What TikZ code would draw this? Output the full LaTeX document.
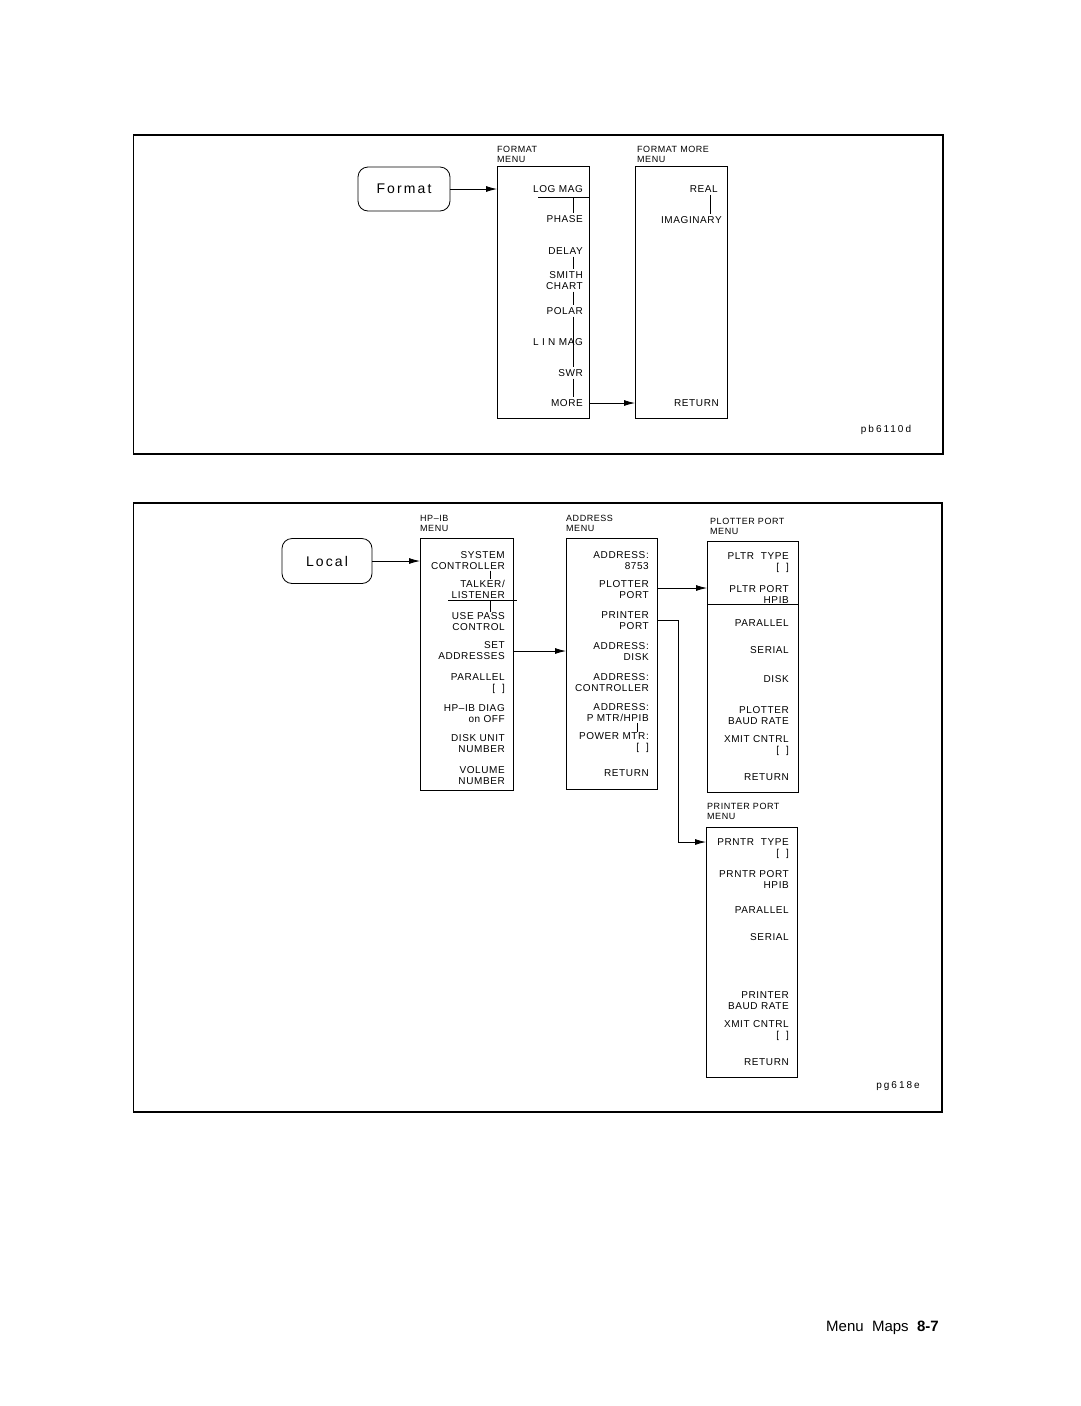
\documentclass[tikz,border=0pt]{standalone}
\usepackage{fontspec}
\setmainfont{Liberation Sans}
\usetikzlibrary{arrows.meta}
\begin{document}
\begin{tikzpicture}[x=1pt,y=-1pt,
  item/.style={anchor=east, inner sep=0pt, align=right, font=\fontsize{10}{11}\selectfont\addfontfeature{LetterSpace=6}},
  head/.style={anchor=south west, inner sep=0pt, align=left, font=\fontsize{9}{10}\selectfont\addfontfeature{LetterSpace=6}},
  menubox/.style={draw, line width=0.8pt, anchor=north west, inner sep=0pt},
  keybtn/.style={draw, line width=0.8pt, rounded corners=10pt, inner sep=0pt, font=\fontsize{14}{14}\selectfont\addfontfeature{LetterSpace=15}},
  conn/.style={line width=0.8pt, -{Latex[length=11pt,width=6pt]}},
  link/.style={line width=0.7pt},
  frame/.style={line width=2.6pt},
  tag/.style={inner sep=0pt, font=\fontsize{10}{10}\selectfont\addfontfeature{LetterSpace=20}}]
\useasboundingbox (0,0) rectangle (1080,1406);
\fill[white] (0,0) rectangle (1080,1406);

% ---------- panel frames ----------
\coordinate (p1a) at (133,135); \coordinate (p1b) at (943,454);
\draw[frame] (p1a) -- (p1a -| p1b) -- (p1b) -- (p1b -| p1a);
\draw[line width=1pt] (p1a) -- (p1b -| p1a);
\coordinate (p2a) at (133,503); \coordinate (p2b) at (942,1112);
\draw[frame] (p2a) -- (p2a -| p2b) -- (p2b) -- (p2b -| p2a);
\draw[line width=1pt] (p2a) -- (p2b -| p2a);

% ---------- top panel ----------
\node[keybtn, minimum width=92pt, minimum height=44pt] (fbtn) at (404,189) {Format};

\node[menubox, minimum width=92pt, minimum height=252pt] (fm) at (497,166) {};
\node[head] (fmh) at (497,163) {FORMAT\\MENU};
\node[item] (lm) at (583,189) {LOG MAG};
\node[item] (ph) at (583,219) {PHASE};
\node[item] (dl) at (583,251) {DELAY};
\node[item] (sc) at (583,280.5) {SMITH\\CHART};
\node[item] (po) at (583,311) {POLAR};
\node[item] (li) at (583,342) {L I N  MAG};
\node[item] (sw) at (583,373) {SWR};
\node[item] (mo) at (583,403) {MORE};
\coordinate (cx1) at (573,0);
\coordinate (ul1) at (538,197);
\draw[link] (ul1) -- (ul1 -| fm.east);
\draw[link] (ul1 -| cx1) -- ([yshift=2pt]ph.north -| cx1);
\draw[link] ([yshift=-2pt]dl.south -| cx1) -- ([yshift=2pt]sc.north -| cx1);
\draw[link] ([yshift=-2pt]sc.south -| cx1) -- ([yshift=2pt]po.north -| cx1);
\draw[link] ([yshift=-2pt]po.south -| cx1) -- ([yshift=2pt]sw.north -| cx1);
\draw[link] ([yshift=-2pt]sw.south -| cx1) -- ([yshift=2pt]mo.north -| cx1);

\node[menubox, minimum width=92pt, minimum height=252pt] (fmm) at (635,166) {};
\node[head] (fmmh) at (637,163) {FORMAT MORE\\MENU};
\node[item] (re) at (718,189) {REAL};
\node[item] (im) at (722,220) {IMAGINARY};
\node[item] (rt1) at (719,403) {RETURN};
\coordinate (cx2) at (710,0);
\draw[link] ([yshift=-2pt]re.south -| cx2) -- ([yshift=2pt]im.north -| cx2);

\draw[conn] (fbtn.east) -- (fbtn.east -| fm.west);
\draw[conn] (mo.east -| fm.east) -- (mo.east -| fmm.west);
\node[tag] (t1) at (886,430) {pb6110d};

% ---------- bottom panel ----------
\node[keybtn, minimum width=90pt, minimum height=45pt] (lbtn) at (327,561) {Local};

\node[menubox, minimum width=93pt, minimum height=252pt] (hb) at (420,538) {};
\node[head] (hbh) at (420,532) {HP--IB\\MENU};
\node[item] (sy) at (505,560.5) {SYSTEM\\CONTROLLER};
\node[item] (tl) at (505,589.5) {TALKER/\\LISTENER};
\node[item] (up) at (505,622) {USE PASS\\CONTROL};
\node[item] (sa) at (505,651) {SET\\ADDRESSES};
\node[item] (pa) at (505,683.5) {PARALLEL\\{[\ \ ]}};
\node[item] (hd) at (505,714) {HP--IB DIAG\\on OFF};
\node[item] (du) at (505,744) {DISK UNIT\\NUMBER};
\node[item] (vo) at (505,775.5) {VOLUME\\NUMBER};
\coordinate (cx3) at (490,0);
\coordinate (ul2) at (448,600);
\draw[link] (ul2) -- ++(69,0) coordinate (ul2e);
\draw[link] ([yshift=-1pt]sy.south -| cx3) -- ([yshift=1pt]tl.north -| cx3);
\draw[link] (ul2 -| cx3) -- ([yshift=1pt]up.north -| cx3);

\node[menubox, minimum width=91pt, minimum height=251pt] (am) at (566,538) {};
\node[head] (amh) at (566,532) {ADDRESS\\MENU};
\node[item] (a1) at (649,560.5) {ADDRESS:\\8753};
\node[item] (plp) at (649,589.5) {PLOTTER\\PORT};
\node[item] (prp) at (649,621) {PRINTER\\PORT};
\node[item] (a2) at (649,651.5) {ADDRESS:\\DISK};
\node[item] (a3) at (649,683) {ADDRESS:\\CONTROLLER};
\node[item] (a4) at (649,713) {ADDRESS:\\P MTR/HPIB};
\node[item] (pm) at (649,743) {POWER MTR:\\{[\ \ ]}};
\node[item] (rt2) at (649,773) {RETURN};
\coordinate (cx4) at (637,0);
\draw[link] ([yshift=-1pt]a4.south -| cx4) -- ([yshift=1pt]pm.north -| cx4);

\node[menubox, minimum width=91pt, minimum height=251pt] (plb) at (707,541) {};
\node[head] (plh) at (710,535) {PLOTTER PORT\\MENU};
\node[item] (q1) at (789,563) {PLTR\ \ TYPE\\{[\ \ ]}};
\node[item] (q2) at (789,594) {PLTR PORT\\HPIB};
\coordinate (dv) at (707,604);
\draw[link] (dv) -- (dv -| plb.east);
\node[item] (q3) at (789,623) {PARALLEL};
\node[item] (q4) at (789,650) {SERIAL};
\node[item] (q5) at (789,679) {DISK};
\node[item] (q6) at (789,715.5) {PLOTTER\\BAUD RATE};
\node[item] (q7) at (789,746) {XMIT CNTRL\\{[\ \ ]}};
\node[item] (rt3) at (789,777) {RETURN};

\node[menubox, minimum width=91pt, minimum height=250pt] (pr) at (706,827) {};
\node[head] (prh) at (707,820) {PRINTER PORT\\MENU};
\node[item] (r1) at (789,849) {PRNTR\ \ TYPE\\{[\ \ ]}};
\node[item] (r2) at (789,879) {PRNTR PORT\\HPIB};
\node[item] (r3) at (789,910) {PARALLEL};
\node[item] (r4) at (789,937) {SERIAL};
\node[item] (r5) at (789,1001) {PRINTER\\BAUD RATE};
\node[item] (r6) at (789,1031) {XMIT CNTRL\\{[\ \ ]}};
\node[item] (rt4) at (789,1062) {RETURN};

\draw[conn] (lbtn.east) -- (lbtn.east -| hb.west);
\draw[conn] (sa.east -| hb.east) -- (sa.east -| am.west);
\coordinate (py) at (0,588);
\draw[conn] (py -| am.east) -- (py -| plb.west);
\coordinate (bend) at (678,620);
\coordinate (prin) at (0,842);
\draw[conn] (bend -| am.east) -- (bend) |- (prin -| pr.west);
\node[tag] (t2) at (898,1086) {pg618e};

% ---------- page footer ----------
\node[anchor=base west, inner sep=0pt, font=\fontsize{15}{15}\selectfont] (ft) at (826,1331)
  {Menu\ \ Maps\ \ \textbf{8-7}};
\end{tikzpicture}
\end{document}
